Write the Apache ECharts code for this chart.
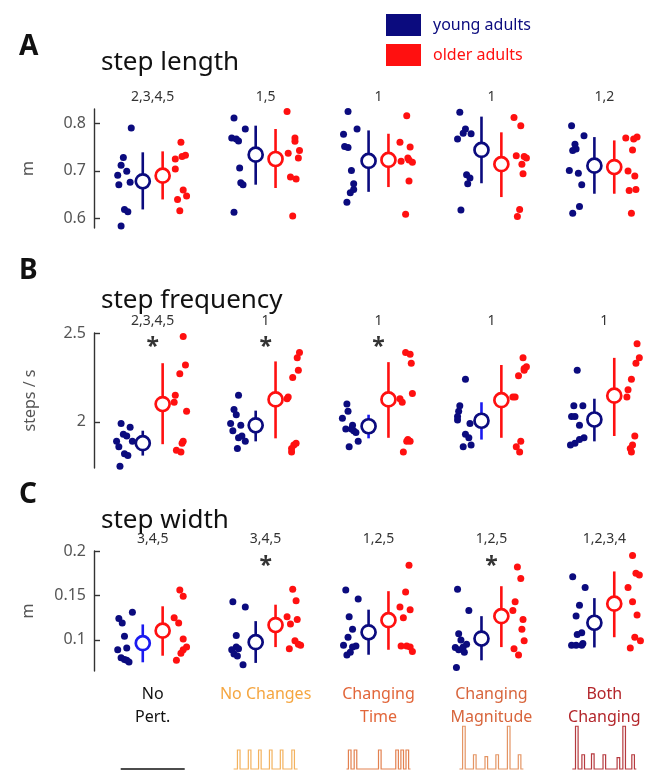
<!DOCTYPE html>
<html lang="en">
<head>
<meta charset="UTF-8">
<title>Step parameters: young vs older adults</title>
<script src="https://cdn.jsdelivr.net/npm/echarts@6/dist/echarts.min.js"></script>
<style>
  html, body { margin: 0; padding: 0; background: #fff; }
  #chart { width: 656px; height: 775px; }
</style>
</head>
<body>
<div id="chart"></div>
<script>
// ---------- data ----------
const conditionLabels = ['No\nPert.', 'No Changes', 'Changing\nTime', 'Changing\nMagnitude', 'Both\nChanging'];

const lengthPairs = ['2,3,4,5', '1,5', '1', '1', '1,2'];
const freqPairs = ['2,3,4,5', '1', '1', '1', '1'];
const widthPairs = ['3,4,5', '3,4,5', '1,2,5', '1,2,5', '1,2,3,4'];

const freqStars = [1, 1, 1, 0, 0];
const widthStars = [0, 1, 0, 1, 0];

// step length (m)
const lengthYoung = [
  [0.790, 0.728, 0.712, 0.699, 0.691, 0.671, 0.676, 0.619, 0.614, 0.584],
  [0.811, 0.788, 0.769, 0.767, 0.763, 0.706, 0.675, 0.671, 0.613],
  [0.825, 0.788, 0.777, 0.751, 0.749, 0.701, 0.673, 0.661, 0.654, 0.634],
  [0.835, 0.823, 0.788, 0.779, 0.778, 0.767, 0.692, 0.685, 0.673, 0.618],
  [0.795, 0.774, 0.756, 0.746, 0.743, 0.701, 0.695, 0.671, 0.625, 0.611]
];
const lengthYoungJit = [
  [-0.19, -0.26, -0.28, -0.23, -0.31, -0.30, -0.20, -0.25, -0.22, -0.28],
  [-0.28, -0.18, -0.30, -0.26, -0.24, -0.23, -0.22, -0.20, -0.28],
  [-0.27, -0.19, -0.31, -0.30, -0.27, -0.24, -0.22, -0.22, -0.25, -0.28],
  [-0.26, -0.28, -0.23, -0.25, -0.18, -0.30, -0.22, -0.19, -0.21, -0.27],
  [-0.29, -0.18, -0.26, -0.25, -0.28, -0.31, -0.23, -0.20, -0.22, -0.28]
];
const lengthOlder = [
  [0.760, 0.733, 0.730, 0.725, 0.704, 0.660, 0.647, 0.640, 0.616],
  [0.825, 0.769, 0.762, 0.743, 0.737, 0.727, 0.687, 0.683, 0.605],
  [0.816, 0.760, 0.750, 0.727, 0.723, 0.720, 0.718, 0.679, 0.609],
  [0.812, 0.795, 0.732, 0.730, 0.727, 0.714, 0.694, 0.619, 0.604],
  [0.771, 0.769, 0.767, 0.744, 0.700, 0.689, 0.661, 0.659, 0.611]
];
const lengthOlderJit = [
  [0.25, 0.29, 0.26, 0.20, 0.20, 0.27, 0.30, 0.22, 0.24],
  [0.19, 0.26, 0.26, 0.30, 0.20, 0.29, 0.22, 0.27, 0.24],
  [0.25, 0.19, 0.28, 0.26, 0.27, 0.20, 0.30, 0.27, 0.24],
  [0.20, 0.26, 0.22, 0.29, 0.31, 0.27, 0.28, 0.25, 0.23],
  [0.29, 0.19, 0.26, 0.25, 0.21, 0.27, 0.28, 0.22, 0.24]
];
const lengthYoungMean = [0.678, 0.734, 0.721, 0.744, 0.711];
const lengthYoungLo = [0.619, 0.671, 0.656, 0.674, 0.652];
const lengthYoungHi = [0.739, 0.795, 0.785, 0.814, 0.771];
const lengthOlderMean = [0.690, 0.725, 0.723, 0.714, 0.708];
const lengthOlderLo = [0.640, 0.664, 0.666, 0.645, 0.652];
const lengthOlderHi = [0.741, 0.788, 0.778, 0.781, 0.764];

// step frequency (steps / s)
const freqYoung = [
  [1.99, 1.97, 1.93, 1.92, 1.89, 1.89, 1.86, 1.82, 1.81, 1.75],
  [2.15, 2.07, 2.04, 1.99, 1.98, 1.95, 1.92, 1.91, 1.89, 1.85],
  [2.10, 2.06, 2.02, 1.98, 1.96, 1.96, 1.95, 1.94, 1.89, 1.86],
  [2.24, 2.09, 2.06, 2.03, 2.01, 1.99, 1.93, 1.91, 1.87, 1.86],
  [2.29, 2.09, 2.09, 2.03, 2.03, 1.98, 1.91, 1.90, 1.88, 1.87]
];
const freqYoungJit = [
  [-0.28, -0.20, -0.26, -0.23, -0.32, -0.18, -0.30, -0.25, -0.22, -0.29],
  [-0.24, -0.28, -0.26, -0.31, -0.22, -0.29, -0.21, -0.24, -0.18, -0.25],
  [-0.28, -0.27, -0.32, -0.23, -0.29, -0.24, -0.22, -0.20, -0.18, -0.26],
  [-0.23, -0.28, -0.29, -0.30, -0.30, -0.19, -0.23, -0.20, -0.18, -0.25],
  [-0.24, -0.27, -0.19, -0.29, -0.26, -0.22, -0.18, -0.22, -0.26, -0.30]
];
const freqOlder = [
  [2.48, 2.32, 2.27, 2.15, 2.11, 2.06, 1.89, 1.88, 1.84, 1.83],
  [2.39, 2.36, 2.29, 2.25, 2.14, 2.13, 1.88, 1.87, 1.85, 1.83],
  [2.39, 2.38, 2.33, 2.16, 2.13, 2.11, 1.90, 1.89, 1.89, 1.83],
  [2.36, 2.31, 2.30, 2.29, 2.26, 2.14, 2.14, 1.89, 1.86, 1.83],
  [2.44, 2.36, 2.33, 2.24, 2.18, 2.14, 1.92, 1.87, 1.85, 1.83]
];
const freqOlderJit = [
  [0.27, 0.29, 0.24, 0.20, 0.19, 0.30, 0.27, 0.26, 0.21, 0.25],
  [0.30, 0.28, 0.29, 0.24, 0.20, 0.19, 0.27, 0.25, 0.23, 0.23],
  [0.24, 0.28, 0.29, 0.30, 0.19, 0.21, 0.26, 0.28, 0.25, 0.22],
  [0.28, 0.31, 0.29, 0.29, 0.24, 0.21, 0.19, 0.26, 0.22, 0.25],
  [0.29, 0.31, 0.28, 0.24, 0.21, 0.20, 0.27, 0.25, 0.23, 0.24]
];
const freqYoungMean = [1.880, 1.980, 1.975, 2.006, 2.013];
const freqYoungLo = [1.810, 1.890, 1.907, 1.900, 1.890];
const freqYoungHi = [1.950, 2.063, 2.040, 2.110, 2.130];
const freqOlderMean = [2.100, 2.126, 2.126, 2.122, 2.147];
const freqOlderLo = [1.874, 1.907, 1.910, 1.910, 1.920];
const freqOlderHi = [2.330, 2.340, 2.336, 2.320, 2.360];

// step width (m)
const widthYoung = [
  [0.131, 0.124, 0.119, 0.104, 0.091, 0.089, 0.080, 0.078, 0.077, 0.075],
  [0.143, 0.137, 0.105, 0.092, 0.090, 0.089, 0.084, 0.082, 0.072],
  [0.156, 0.146, 0.126, 0.112, 0.103, 0.094, 0.093, 0.092, 0.086, 0.083],
  [0.157, 0.133, 0.107, 0.100, 0.095, 0.092, 0.0915, 0.089, 0.086, 0.069],
  [0.171, 0.159, 0.139, 0.127, 0.108, 0.106, 0.096, 0.094, 0.094, 0.094]
];
const widthYoungJit = [
  [-0.18, -0.30, -0.27, -0.25, -0.23, -0.31, -0.28, -0.25, -0.23, -0.21],
  [-0.29, -0.18, -0.26, -0.26, -0.24, -0.30, -0.28, -0.25, -0.20],
  [-0.29, -0.18, -0.26, -0.23, -0.27, -0.31, -0.20, -0.23, -0.25, -0.28],
  [-0.30, -0.20, -0.29, -0.27, -0.22, -0.25, -0.32, -0.29, -0.24, -0.31],
  [-0.28, -0.17, -0.22, -0.25, -0.20, -0.24, -0.19, -0.29, -0.20, -0.25]
];
const widthOlder = [
  [0.156, 0.149, 0.125, 0.119, 0.101, 0.092, 0.089, 0.085, 0.077],
  [0.157, 0.144, 0.126, 0.123, 0.118, 0.099, 0.095, 0.094, 0.090],
  [0.184, 0.154, 0.137, 0.134, 0.125, 0.093, 0.093, 0.092, 0.087],
  [0.182, 0.169, 0.143, 0.133, 0.123, 0.112, 0.099, 0.090, 0.083],
  [0.195, 0.175, 0.173, 0.159, 0.143, 0.128, 0.103, 0.099, 0.091]
];
const widthOlderJit = [
  [0.24, 0.27, 0.19, 0.23, 0.27, 0.30, 0.27, 0.25, 0.21],
  [0.24, 0.27, 0.19, 0.28, 0.22, 0.26, 0.29, 0.31, 0.21],
  [0.27, 0.24, 0.19, 0.28, 0.22, 0.20, 0.25, 0.28, 0.30],
  [0.23, 0.26, 0.21, 0.19, 0.28, 0.27, 0.29, 0.20, 0.24],
  [0.25, 0.28, 0.31, 0.21, 0.25, 0.29, 0.27, 0.32, 0.23]
];
const widthYoungMean = [0.0963, 0.0974, 0.1085, 0.1015, 0.1193];
const widthYoungLo = [0.0748, 0.0741, 0.0833, 0.0770, 0.0915];
const widthYoungHi = [0.1174, 0.1211, 0.1340, 0.1267, 0.1470];
const widthOlderMean = [0.1104, 0.1167, 0.1222, 0.1267, 0.1407];
const widthOlderLo = [0.0822, 0.0919, 0.0889, 0.0919, 0.1030];
const widthOlderHi = [0.1378, 0.1396, 0.1548, 0.1604, 0.1770];

// perturbation schematics: pulse times (0..1 across the icon) and relative heights
const pulseTimes = [
  [],
  [0.08, 0.25, 0.41, 0.58, 0.75, 0.93],
  [0.05, 0.14, 0.52, 0.79, 0.87, 0.95],
  [0.07, 0.24, 0.42, 0.59, 0.77, 0.94],
  [0.07, 0.17, 0.32, 0.50, 0.72, 0.81, 0.95]
];
const pulseHeights = [
  [],
  [1, 1, 1, 1, 1, 1],
  [1, 1, 1, 1, 1, 1],
  [2.25, 0.75, 0.65, 0.75, 2.25, 0.75],
  [2.25, 0.75, 0.8, 0.75, 0.6, 2.25, 0.75]
];

// ---------- styling ----------
const NAVY = '#0b0b7e';
const RED = '#ff1010';
const BRIGHT = '#1a1af0';
const condColors = ['#111111', '#f5a640', '#e2663a', '#d8653c', '#b3262b'];
const iconColors = ['#111111', '#f3b25e', '#e38150', '#e49564', '#b63a3f'];
const SHIFT = 0.088;
const X_MIN = -0.52, X_MAX = 4.44;
const FONT = '"Noto Sans", sans-serif';

// young error-bar colour per group (some are drawn in a brighter blue)
const youngBarTint = [
  [NAVY, NAVY, NAVY, NAVY, NAVY],
  [NAVY, NAVY, BRIGHT, BRIGHT, NAVY],
  [BRIGHT, NAVY, NAVY, NAVY, NAVY]
];
const youngCircleTint = [
  [NAVY, NAVY, NAVY, NAVY, NAVY],
  [NAVY, NAVY, NAVY, NAVY, NAVY],
  [BRIGHT, NAVY, NAVY, NAVY, NAVY]
];

const panels = [
  { young: lengthYoung, yj: lengthYoungJit, older: lengthOlder, oj: lengthOlderJit,
    ym: lengthYoungMean, ylo: lengthYoungLo, yhi: lengthYoungHi,
    om: lengthOlderMean, olo: lengthOlderLo, ohi: lengthOlderHi, stars: null, starY: 0 },
  { young: freqYoung, yj: freqYoungJit, older: freqOlder, oj: freqOlderJit,
    ym: freqYoungMean, ylo: freqYoungLo, yhi: freqYoungHi,
    om: freqOlderMean, olo: freqOlderLo, ohi: freqOlderHi, stars: freqStars, starY: 2.42 },
  { young: widthYoung, yj: widthYoungJit, older: widthOlder, oj: widthOlderJit,
    ym: widthYoungMean, ylo: widthYoungLo, yhi: widthYoungHi,
    om: widthOlderMean, olo: widthOlderLo, ohi: widthOlderHi, stars: widthStars, starY: 0.183 }
];

function dots(vals, jit) {
  const out = [];
  vals.forEach((grp, g) => grp.forEach((v, k) => out.push([g + jit[g][k], v])));
  return out;
}

function errorBars(idx, mean, lo, hi, side, colors) {
  return {
    type: 'custom', xAxisIndex: idx, yAxisIndex: idx, z: 3, silent: true,
    data: mean.map((m, g) => [g + side, lo[g], hi[g]]),
    encode: { x: 0, y: [1, 2] },
    renderItem: (params, api) => {
      const a = api.coord([api.value(0), api.value(1)]);
      const b = api.coord([api.value(0), api.value(2)]);
      return { type: 'line', shape: { x1: a[0], y1: a[1], x2: b[0], y2: b[1] },
        style: { stroke: colors[params.dataIndex], lineWidth: 2.6 } };
    }
  };
}

function means(idx, mean, side, colors) {
  return {
    type: 'scatter', xAxisIndex: idx, yAxisIndex: idx, z: 4, silent: true,
    symbolSize: 14,
    itemStyle: { color: '#fff', borderWidth: 2.7, opacity: 1 },
    data: mean.map((m, g) => ({ value: [g + side, m], itemStyle: { borderColor: colors[g] } }))
  };
}

const series = [];
panels.forEach((p, i) => {
  series.push({ name: 'young adults', type: 'scatter', xAxisIndex: i, yAxisIndex: i,
    symbolSize: 7, itemStyle: { color: NAVY, opacity: 1 }, data: dots(p.young, p.yj) });
  series.push({ name: 'older adults', type: 'scatter', xAxisIndex: i, yAxisIndex: i,
    symbolSize: 7, itemStyle: { color: RED, opacity: 1 }, data: dots(p.older, p.oj) });
  series.push(errorBars(i, p.ym, p.ylo, p.yhi, -SHIFT, youngBarTint[i]));
  series.push(errorBars(i, p.om, p.olo, p.ohi, SHIFT, [RED, RED, RED, RED, RED]));
  series.push(means(i, p.ym, -SHIFT, youngCircleTint[i]));
  series.push(means(i, p.om, SHIFT, [RED, RED, RED, RED, RED]));
  if (p.stars) {
    series.push({ type: 'scatter', xAxisIndex: i, yAxisIndex: i, silent: true,
      symbolSize: 1, itemStyle: { color: 'transparent' },
      label: { show: true, position: 'inside', formatter: '*', fontSize: 23, fontWeight: 'bold', color: '#000', fontFamily: FONT },
      data: p.stars.map((s, g) => s ? [g, p.starY] : null).filter(d => d) });
  }
});

const grids = [
  { left: 94, width: 560, top: 109, height: 119 },
  { left: 94, width: 560, top: 333, height: 135 },
  { left: 94, width: 560, top: 551, height: 120 }
];

function topAxis(idx, labels) {
  return { type: 'value', gridIndex: idx, position: 'top', min: X_MIN, max: X_MAX,
    axisLine: { show: false }, axisTick: { show: false }, splitLine: { show: false },
    axisLabel: { customValues: [0, 1, 2, 3, 4], formatter: v => labels[Math.round(v)],
      fontSize: 14, color: '#333', margin: 5, fontFamily: FONT } };
}

function yAxis(idx, min, max, ticks, name, gap) {
  return { type: 'value', gridIndex: idx, min: min, max: max,
    name: name, nameLocation: 'middle', nameGap: gap, nameRotate: 90,
    nameTextStyle: { fontSize: 16, color: '#555', fontFamily: FONT },
    axisLine: { show: true, onZero: false, lineStyle: { color: '#333', width: 1.4 } },
    axisTick: { show: true, inside: true, length: 6, customValues: ticks, lineStyle: { color: '#333', width: 1.4 } },
    axisLabel: { customValues: ticks, fontSize: 16, color: '#555', margin: 8, fontFamily: FONT },
    splitLine: { show: false } };
}

const rich = {};
condColors.forEach((c, i) => { rich['c' + i] = { color: c, fontSize: 16, lineHeight: 23, fontFamily: FONT }; });

const option = {
  animation: false,
  textStyle: { fontFamily: FONT },
  title: [
    { text: 'A', left: 14, top: 28, textStyle: { fontSize: 28, fontWeight: 'bold', color: '#111', fontFamily: FONT } },
    { text: 'step length', left: 96, top: 45, textStyle: { fontSize: 26, fontWeight: 'normal', color: '#111', fontFamily: FONT } },
    { text: 'B', left: 14, top: 252, textStyle: { fontSize: 28, fontWeight: 'bold', color: '#111', fontFamily: FONT } },
    { text: 'step frequency', left: 96, top: 283, textStyle: { fontSize: 26, fontWeight: 'normal', color: '#111', fontFamily: FONT } },
    { text: 'C', left: 14, top: 476, textStyle: { fontSize: 28, fontWeight: 'bold', color: '#111', fontFamily: FONT } },
    { text: 'step width', left: 96, top: 503, textStyle: { fontSize: 26, fontWeight: 'normal', color: '#111', fontFamily: FONT } }
  ],
  legend: {
    left: 381, top: 9, orient: 'vertical', itemWidth: 35, itemHeight: 22, itemGap: 8, icon: 'rect',
    selectedMode: false,
    textStyle: { fontSize: 16, padding: [0, 0, 0, 7], fontFamily: FONT },
    data: [
      { name: 'young adults', textStyle: { color: NAVY } },
      { name: 'older adults', textStyle: { color: RED } }
    ]
  },
  grid: grids,
  xAxis: [
    topAxis(0, lengthPairs),
    topAxis(1, freqPairs),
    topAxis(2, widthPairs),
    { type: 'value', gridIndex: 2, position: 'bottom', min: X_MIN, max: X_MAX,
      axisLine: { show: false }, axisTick: { show: false }, splitLine: { show: false },
      axisLabel: { customValues: [0, 1, 2, 3, 4], margin: 12, rich: rich,
        formatter: v => { const i = Math.round(v); return conditionLabels[i].split('\n').map(s => '{c' + i + '|' + s + '}').join('\n'); } } }
  ],
  yAxis: [
    yAxis(0, 0.58, 0.83, [0.6, 0.7, 0.8], 'm', 58),
    yAxis(1, 1.74, 2.5, [2, 2.5], 'steps / s', 56),
    yAxis(2, 0.065, 0.2, [0.1, 0.15, 0.2], 'm', 58)
  ],
  series: series
};

const chart = echarts.init(document.getElementById('chart'));
chart.setOption(option);

// perturbation schematics under each condition label
const ICON_W = 64, BASE_Y = 769, PULSE_H = 19;
const graphics = pulseTimes.map((times, i) => {
  const cx = chart.convertToPixel({ xAxisIndex: 3 }, i);
  const x0 = cx - ICON_W / 2;
  const pts = [[x0, BASE_Y]];
  times.forEach((t, k) => {
    const x = x0 + t * ICON_W;
    const h = pulseHeights[i][k] * PULSE_H;
    pts.push([x - 1.3, BASE_Y], [x - 1.3, BASE_Y - h], [x + 1.3, BASE_Y - h], [x + 1.3, BASE_Y]);
  });
  pts.push([x0 + ICON_W, BASE_Y]);
  return { type: 'polyline', silent: true, shape: { points: pts },
    style: { stroke: iconColors[i], lineWidth: i === 0 ? 1.6 : 1.2, fill: null } };
});
chart.setOption({ graphic: graphics });
</script>
</body>
</html>
